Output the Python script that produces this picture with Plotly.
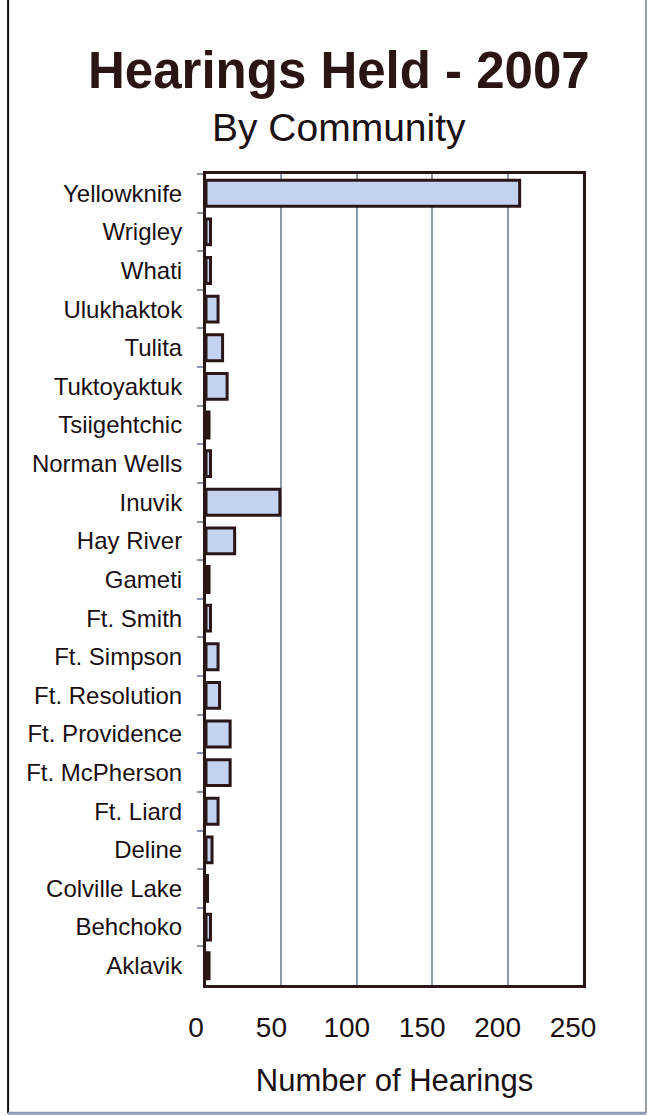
import plotly.graph_objects as go

# communities, top to bottom as shown
communities = [
    "Yellowknife", "Wrigley", "Whati", "Ulukhaktok", "Tulita", "Tuktoyaktuk",
    "Tsiigehtchic", "Norman Wells", "Inuvik", "Hay River", "Gameti",
    "Ft. Smith", "Ft. Simpson", "Ft. Resolution", "Ft. Providence",
    "Ft. McPherson", "Ft. Liard", "Deline", "Colville Lake", "Behchoko", "Aklavik",
]
hearings = [208, 3, 3, 8, 11, 14, 2, 3, 49, 19, 2, 3, 8, 9, 16, 16, 8, 4, 1, 3, 2]
x_ticks = [0, 50, 100, 150, 200, 250]

FONT = "Liberation Sans, Arial, sans-serif"
DARK = "#2a1517"
GRID = "#8e99ab"

fig = go.Figure(go.Bar(
    y=communities, x=hearings, orientation="h",
    marker=dict(color="#c4d2f2", line=dict(color=DARK, width=3)),
))

fig.update_layout(
    width=649, height=1116,
    margin=dict(l=206, r=66, t=174, b=131),
    paper_bgcolor="white", plot_bgcolor="white",
    bargap=0.33, showlegend=False,
    font=dict(family=FONT, color="#1a1012"),
)

fig.update_xaxes(
    range=[0, 250], tickvals=x_ticks, showgrid=True, gridcolor=GRID, gridwidth=1.5,
    showline=True, linecolor=DARK, linewidth=3, mirror=True,
    ticks="", tickfont=dict(size=28), ticklabelstandoff=15, ticklabelshift=-10,
    title=dict(text="Number of Hearings", font=dict(size=31), standoff=28),
    zeroline=False,
)
fig.update_yaxes(
    autorange="reversed", showline=True, linecolor=DARK, linewidth=3, mirror=True,
    ticks="outside", tickson="boundaries", ticklen=6, tickcolor=GRID, tickwidth=2,
    tickfont=dict(size=24), ticklabelstandoff=16, showgrid=False,
)

fig.add_annotation(text="<b>Hearings Held - 2007</b>", xref="paper", yref="paper",
                   x=0.353, y=1.128, showarrow=False, yanchor="middle",
                   font=dict(size=51, color="#2b1414"))
fig.add_annotation(text="By Community", xref="paper", yref="paper",
                   x=0.353, y=1.057, showarrow=False, yanchor="middle",
                   font=dict(size=39, color="#1a1012"))

# scanned page border
fig.add_shape(type="line", xref="paper", yref="paper", x0=-0.525, x1=-0.525,
              y0=-0.158, y1=1.22, line=dict(color="#111111", width=2))
fig.add_shape(type="line", xref="paper", yref="paper", x0=1.167, x1=1.167,
              y0=-0.158, y1=1.22, line=dict(color="#9a9fa8", width=2))
fig.add_shape(type="line", xref="paper", yref="paper", x0=-0.525, x1=1.167,
              y0=-0.158, y1=-0.158, line=dict(color="#8b9ab5", width=3))

fig.write_html("out.html", config={"displayModeBar": False},
               post_script="document.body.style.margin='0';")
